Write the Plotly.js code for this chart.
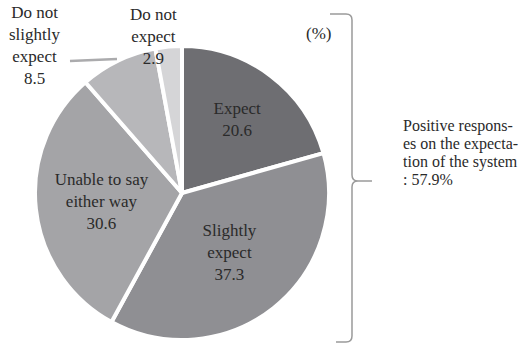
<!DOCTYPE html>
<html>
<head>
<meta charset="utf-8">
<script src="https://cdn.plot.ly/plotly-3.0.1.min.js"></script>
<style>
html,body{margin:0;padding:0;background:#fff;}
#chart{width:526px;height:343px;}
#chart text{font-family:"Liberation Serif","Times New Roman",serif !important;}
</style>
</head>
<body>
<div id="chart"></div>
<script>
// ---- data ----
const categories = ['Expect', 'Slightly expect', 'Unable to say either way', 'Do not slightly expect', 'Do not expect'];
const displayLabels = ['Expect', 'Slightly<br>expect', 'Unable to say<br>either way', 'Do not<br>slightly<br>expect', 'Do not<br>expect'];
const shares = [20.6, 37.3, 30.6, 8.5, 2.9];
const unitLabel = '(%)';
const noteLines = ['Positive respons-', 'es on the expecta-', 'tion of the system', ': 57.9%'];

// ---- styles ----
const W = 526, H = 343;
const colors = ['#6e6e72', '#8f8f93', '#a4a4a7', '#b7b7ba', '#d5d5d7'];
const fam = '"Liberation Serif", serif';
const txt = '#2a2a2a';
const X = px => px / W;
const Y = py => 1 - py / H;

// pie geometry (pixels)
const cx = 182, cy = 193, R = 147;

const textpos = shares.map(v => v < 10 ? 'none' : 'inside');

const trace = {
  type: 'pie',
  labels: categories,
  values: shares,
  text: displayLabels,
  texttemplate: '%{text}<br>%{value:.1f}',
  textposition: textpos,
  insidetextorientation: 'horizontal',
  insidetextfont: {family: fam, size: 17, color: txt},
  sort: false,
  direction: 'clockwise',
  rotation: 0,
  marker: {colors: colors, line: {color: '#ffffff', width: 4}},
  domain: {x: [X(cx - R), X(cx + R)], y: [Y(cy + R), Y(cy - R)]}
};

// outside labels for small slices
const outsidePos = {3: [35, 46], 4: [153, 36]};
const annotations = [];
Object.keys(outsidePos).forEach(k => {
  const i = +k;
  annotations.push({
    xref: 'paper', yref: 'paper', x: X(outsidePos[i][0]), y: Y(outsidePos[i][1]),
    text: displayLabels[i] + '<br>' + shares[i].toFixed(1),
    showarrow: false, xanchor: 'center', yanchor: 'middle', align: 'center',
    font: {family: fam, size: 17, color: txt}
  });
});
annotations.push({
  xref: 'paper', yref: 'paper', x: X(318), y: Y(33), text: unitLabel,
  showarrow: false, xanchor: 'center', yanchor: 'middle',
  font: {family: fam, size: 17, color: txt}
});
const noteY = [126, 144, 161.5, 179];
noteLines.forEach((l, i) => {
  annotations.push({
    xref: 'paper', yref: 'paper', x: X(401), y: Y(noteY[i]), text: l,
    showarrow: false, xanchor: 'left', yanchor: 'middle', align: 'left',
    font: {family: fam, size: 16, color: txt}
  });
});

function pathPx(cmds) {
  return cmds.map(c => {
    if (typeof c === 'string') return c;
    return X(c[0]).toFixed(5) + ',' + Y(c[1]).toFixed(5);
  }).join(' ');
}
const brace = pathPx(['M', [330, 14], 'L', [346, 14], 'Q', [352, 14], [352, 20], 'L', [352, 175],
  'Q', [352, 181], [358, 181], 'L', [372, 181], 'M', [358, 181], 'Q', [352, 181], [352, 187],
  'L', [352, 336], 'Q', [352, 342], [346, 342], 'L', [336, 342]]);

const shapes = [
  {type: 'path', xref: 'paper', yref: 'paper', path: brace, line: {color: '#9a9a9a', width: 1.5}},
  {type: 'line', xref: 'paper', yref: 'paper', x0: X(70), y0: Y(61), x1: X(117), y1: Y(59),
   line: {color: '#ababad', width: 2.5}}
];

const layout = {
  width: W, height: H,
  margin: {l: 0, r: 0, t: 0, b: 0},
  paper_bgcolor: '#ffffff',
  showlegend: false,
  font: {family: fam, color: txt},
  annotations: annotations,
  shapes: shapes
};

Plotly.newPlot('chart', [trace], layout, {staticPlot: true});
</script>
</body>
</html>
